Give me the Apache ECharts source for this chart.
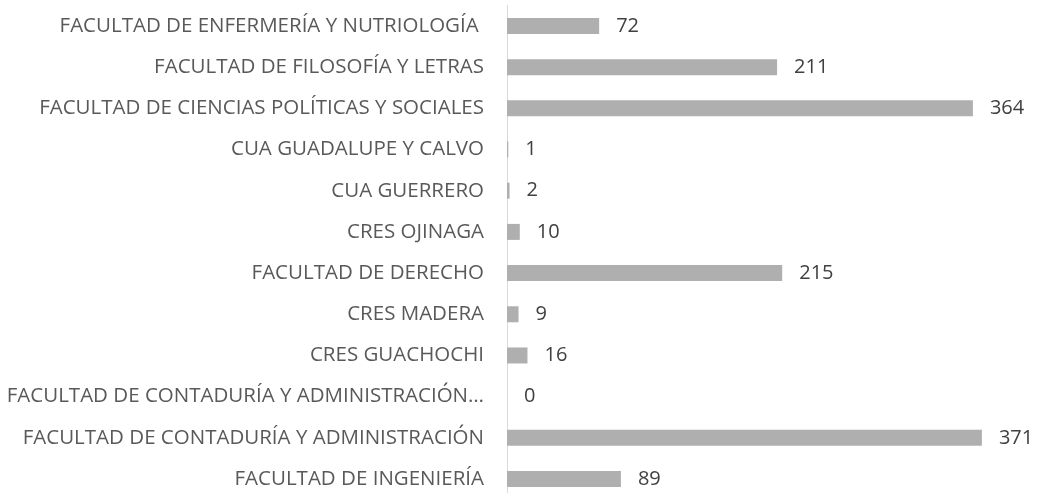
<!DOCTYPE html>
<html>
<head>
<meta charset="utf-8">
<script src="https://cdn.jsdelivr.net/npm/echarts@6/dist/echarts.min.js"></script>
<style>
    html, body { margin: 0; padding: 0; background: #fff; }
    #chart { width: 1038px; height: 493px; }
</style>
</head>
<body>
<div id="chart"></div>
<script>
// categories listed bottom to top (ECharts category axis order)
var categories = [
    'FACULTAD DE INGENIERÍA',
    'FACULTAD DE CONTADURÍA Y ADMINISTRACIÓN',
    'FACULTAD DE CONTADURÍA Y ADMINISTRACIÓN…',
    'CRES GUACHOCHI',
    'CRES MADERA',
    'FACULTAD DE DERECHO',
    'CRES OJINAGA',
    'CUA GUERRERO',
    'CUA GUADALUPE Y CALVO',
    'FACULTAD DE CIENCIAS POLÍTICAS Y SOCIALES',
    'FACULTAD DE FILOSOFÍA Y LETRAS',
    'FACULTAD DE ENFERMERÍA Y NUTRIOLOGÍA '
];
var values = [89, 371, 0, 16, 9, 215, 10, 2, 1, 364, 211, 72];

var chart = echarts.init(document.getElementById('chart'));
var option = {
    animation: false,
    grid: {
        left: 507,
        width: 512,
        top: 5.4,
        height: 494.2,
        containLabel: false,
        outerBoundsMode: 'none'
    },
    xAxis: {
        type: 'value',
        min: 0,
        max: 400,
        show: false
    },
    yAxis: {
        type: 'category',
        data: categories,
        axisTick: { show: false },
        axisLine: {
            show: true,
            lineStyle: { color: '#d9d9d9', width: 1 }
        },
        axisLabel: {
            margin: 23,
            fontFamily: 'Open Sans',
            fontSize: 20.5,
            color: '#595959'
        }
    },
    series: [{
        type: 'bar',
        data: values,
        barWidth: 16,
        itemStyle: { color: '#afafaf' },
        label: {
            show: true,
            position: 'right',
            distance: 17,
            fontFamily: 'Open Sans',
            fontSize: 20,
            color: '#404040'
        }
    }]
};
chart.setOption(option);
</script>
</body>
</html>
